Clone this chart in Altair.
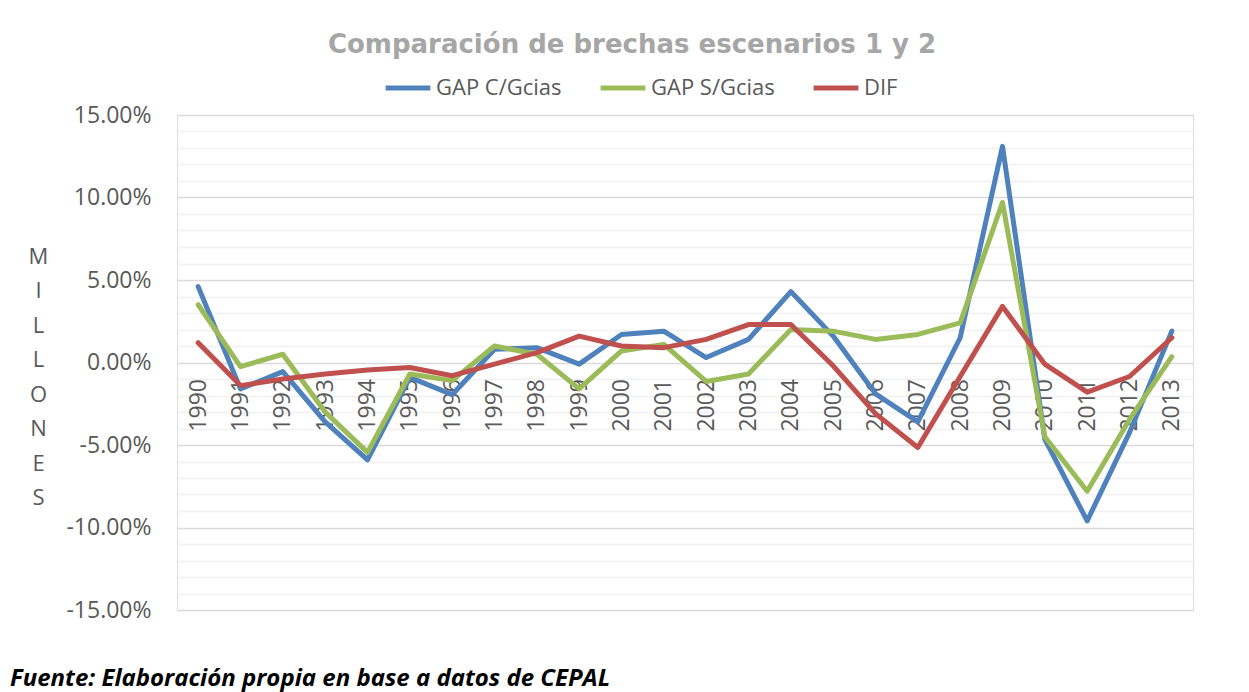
import altair as alt
import pandas as pd

years = [str(y) for y in range(1990, 2014)]
gap_c = [4.6, -1.6, -0.55, -3.6, -5.9, -0.9, -1.95, 0.8, 0.9, -0.1, 1.7, 1.9,
         0.3, 1.4, 4.3, 1.6, -1.9, -3.6, 1.5, 13.1, -4.65, -9.6, -4.25, 1.9]
gap_s = [3.5, -0.25, 0.5, -3.0, -5.45, -0.7, -1.1, 1.0, 0.5, -1.6, 0.7, 1.1,
         -1.15, -0.7, 2.0, 1.9, 1.4, 1.7, 2.4, 9.7, -4.5, -7.8, -3.45, 0.35]
dif = [1.2, -1.4, -1.0, -0.7, -0.45, -0.3, -0.8, -0.1, 0.6, 1.6, 1.0, 0.9,
       1.4, 2.3, 2.3, -0.2, -3.1, -5.15, -0.85, 3.4, -0.1, -1.8, -0.85, 1.5]

series_names = ["GAP C/Gcias", "GAP S/Gcias", "DIF"]
series_colors = ["#4F81BD", "#9BBB59", "#C0504D"]
y_grid = list(range(-15, 16))
title_text = "Comparación de brechas escenarios 1 y 2"
y_title = ["M", "I", "L", "L", "O", "N", "E", "S"]
footer_text = "Fuente: Elaboración propia en base a datos de CEPAL"

rows = []
for name, vals in zip(series_names, [gap_c, gap_s, dif]):
    for yr, v in zip(years, vals):
        rows.append({"year": yr, "value": v, "serie": name})
df = pd.DataFrame(rows)

FONT = "Open Sans"
GREY = "#595959"

x_enc = alt.X(
    "year:O",
    scale=alt.Scale(type="point", padding=0.5),
    axis=alt.Axis(
        title=None, offset=-247.5, labelAngle=-90, labelAlign="right",
        labelBaseline="middle", labelPadding=16, domain=False, ticks=False,
        labelFont=FONT, labelFontSize=23, labelColor=GREY, grid=False,
    ),
)
y_enc = alt.Y(
    "value:Q",
    scale=alt.Scale(domain=[-15, 15], nice=False, zero=False),
    axis=alt.Axis(
        values=y_grid,
        labelExpr="datum.value % 5 === 0 ? (datum.value < 0 ? '-' : '') + format(abs(datum.value) / 100, '.2%') : ''",
        domain=False, ticks=False, labelPadding=26,
        labelFont=FONT, labelFontSize=23, labelColor=GREY,
        gridColor={"condition": {"test": "datum.value % 5 === 0", "value": "#d9d9d9"},
                   "value": "#f0f0f0"},
        gridWidth=1.3,
        title=y_title, titleAngle=0, titleFont=FONT, titleFontSize=22,
        titleFontWeight="normal", titleColor=GREY, titleLineHeight=34.5,
        titleX=-139, titleY=141, titleAlign="center", titleBaseline="middle",
    ),
)
color_enc = alt.Color(
    "serie:N",
    scale=alt.Scale(domain=series_names, range=series_colors),
    legend=alt.Legend(
        title=None, orient="none", legendX=206, legendY=-52, direction="horizontal",
        symbolType="stroke", symbolSize=2000, symbolStrokeWidth=5,
        labelFont=FONT, labelFontSize=22, labelColor=GREY, columnPadding=28,
        labelOffset=3,
    ),
)

base = alt.Chart(df)
layers = []
for name in series_names:
    layers.append(
        base.transform_filter(alt.datum.serie == name)
        .mark_line(strokeWidth=5, strokeCap="round", strokeJoin="round")
        .encode(x=x_enc, y=y_enc, color=color_enc)
    )

footer = alt.Chart(pd.DataFrame({"t": [footer_text]})).mark_text(
    font=FONT, fontSize=24, fontWeight="bold", fontStyle="italic",
    color="#000000", align="left", baseline="alphabetic",
).encode(text="t:N", x=alt.value(-167), y=alt.value(571))

chart = alt.layer(*layers, footer).properties(
    width=1016, height=495,
    title=alt.TitleParams(
        text=title_text, anchor="middle", dx=-53, offset=5,
        font="DejaVu Sans", fontSize=26, fontWeight="bold", color="#a6a6a6",
    ),
    autosize=alt.AutoSizeParams(type="none"),
    padding={"left": 169, "top": 107, "right": 40, "bottom": 82},
).configure_view(stroke=None).configure(background="white")

chart.save("out.html", embed_options={"renderer": "svg", "actions": False})
